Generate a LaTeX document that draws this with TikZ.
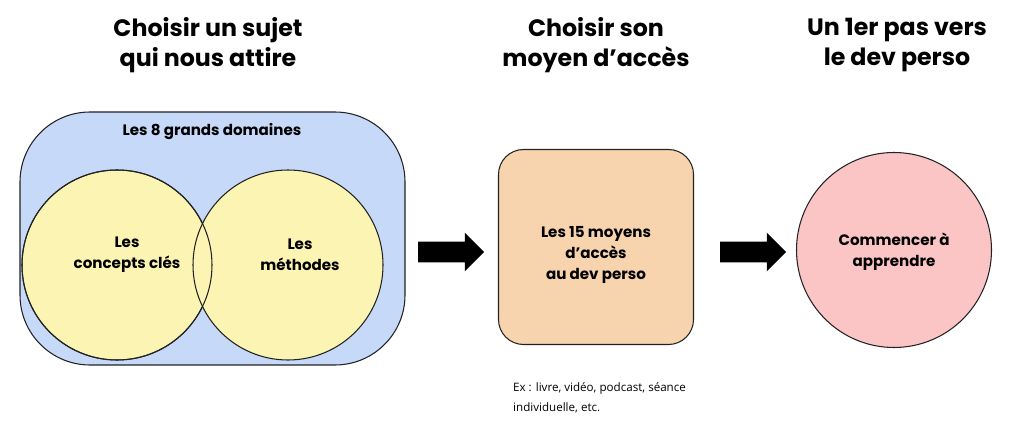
\documentclass[tikz,border=0pt]{standalone}
\usepackage{fontspec}
\setmainfont{Poppins}
\newfontfamily\smallfont{Open Sans}
\usetikzlibrary{shapes.arrows}
\definecolor{domblue}{HTML}{C6D9F8}
\definecolor{circyellow}{HTML}{FBF4B2}
\definecolor{boxorange}{HTML}{F7D3AE}
\definecolor{circpink}{HTML}{FCC5C5}
\definecolor{edge}{HTML}{222222}
\begin{document}
\begin{tikzpicture}[
    x=0.02cm, y=-0.02cm,
    Title/.style={align=center,font=\bfseries\fontsize{13.5}{17}\selectfont},
    Label/.style={align=center,font=\bfseries\fontsize{8.6}{12}\selectfont},
    Circle/.style={circle,draw=edge,line width=0.6pt,minimum size=190*0.02cm,inner sep=0pt},
    Arrow/.style={single arrow,fill=black,minimum height=66*0.02cm,minimum width=38*0.02cm,
      single arrow head extend=9*0.02cm,inner sep=0pt},
    ]
    \useasboundingbox (0,0) rectangle (1024,425);

    % titles
    \node[Title] (t1) at (208,45) {Choisir un sujet\\qui nous attire};
    \node[Title] (t2) at (596,45) {Choisir son\\moyen d'accès};
    \node[Title] (t3) at (897,45) {Un 1er pas vers\\le dev perso};

    % domains
    \draw[fill=domblue,draw=edge,line width=0.6pt,rounded corners=70*0.02cm] (20,112) rectangle (405,365);
    \node[Label] (dom) at (212,132) {Les 8 grands domaines};
    \node[Circle,fill=circyellow] (c1) at (117,265) {};
    \node[Circle,fill=circyellow] (c2) at (288,265) {};
    \draw[edge,line width=0.6pt] (c1) circle[radius=95];
    \node[Label] (l1) at (127,255) {Les\\concepts clés};
    \node[Label] (l2) at (300,255) {Les\\méthodes};

    % means
    \node[draw=edge,line width=0.6pt,fill=boxorange,rounded corners=25*0.02cm,
      minimum size=195*0.02cm] (box) at (596,247) {};
    \node[Label] (l3) at (596,255) {Les 15 moyens\\d'accès\\au dev perso};
    \node[align=left,anchor=north west,font=\smallfont\fontsize{6.6}{11.5}\selectfont] (ex) at (507,376)
      {Ex : livre, vidéo, podcast, séance\\individuelle, etc.};

    % start
    \node[Circle,fill=circpink,minimum size=195*0.02cm] (c3) at (894,250) {};
    \node[Label] (l4) at (894,252) {Commencer à\\apprendre};

    % arrows
    \node[Arrow] (a1) at (446,252) {\rule{0pt}{0.4cm}};
    \node[Arrow] (a2) at (748,252) {\rule{0pt}{0.4cm}};
\end{tikzpicture}
\end{document}
